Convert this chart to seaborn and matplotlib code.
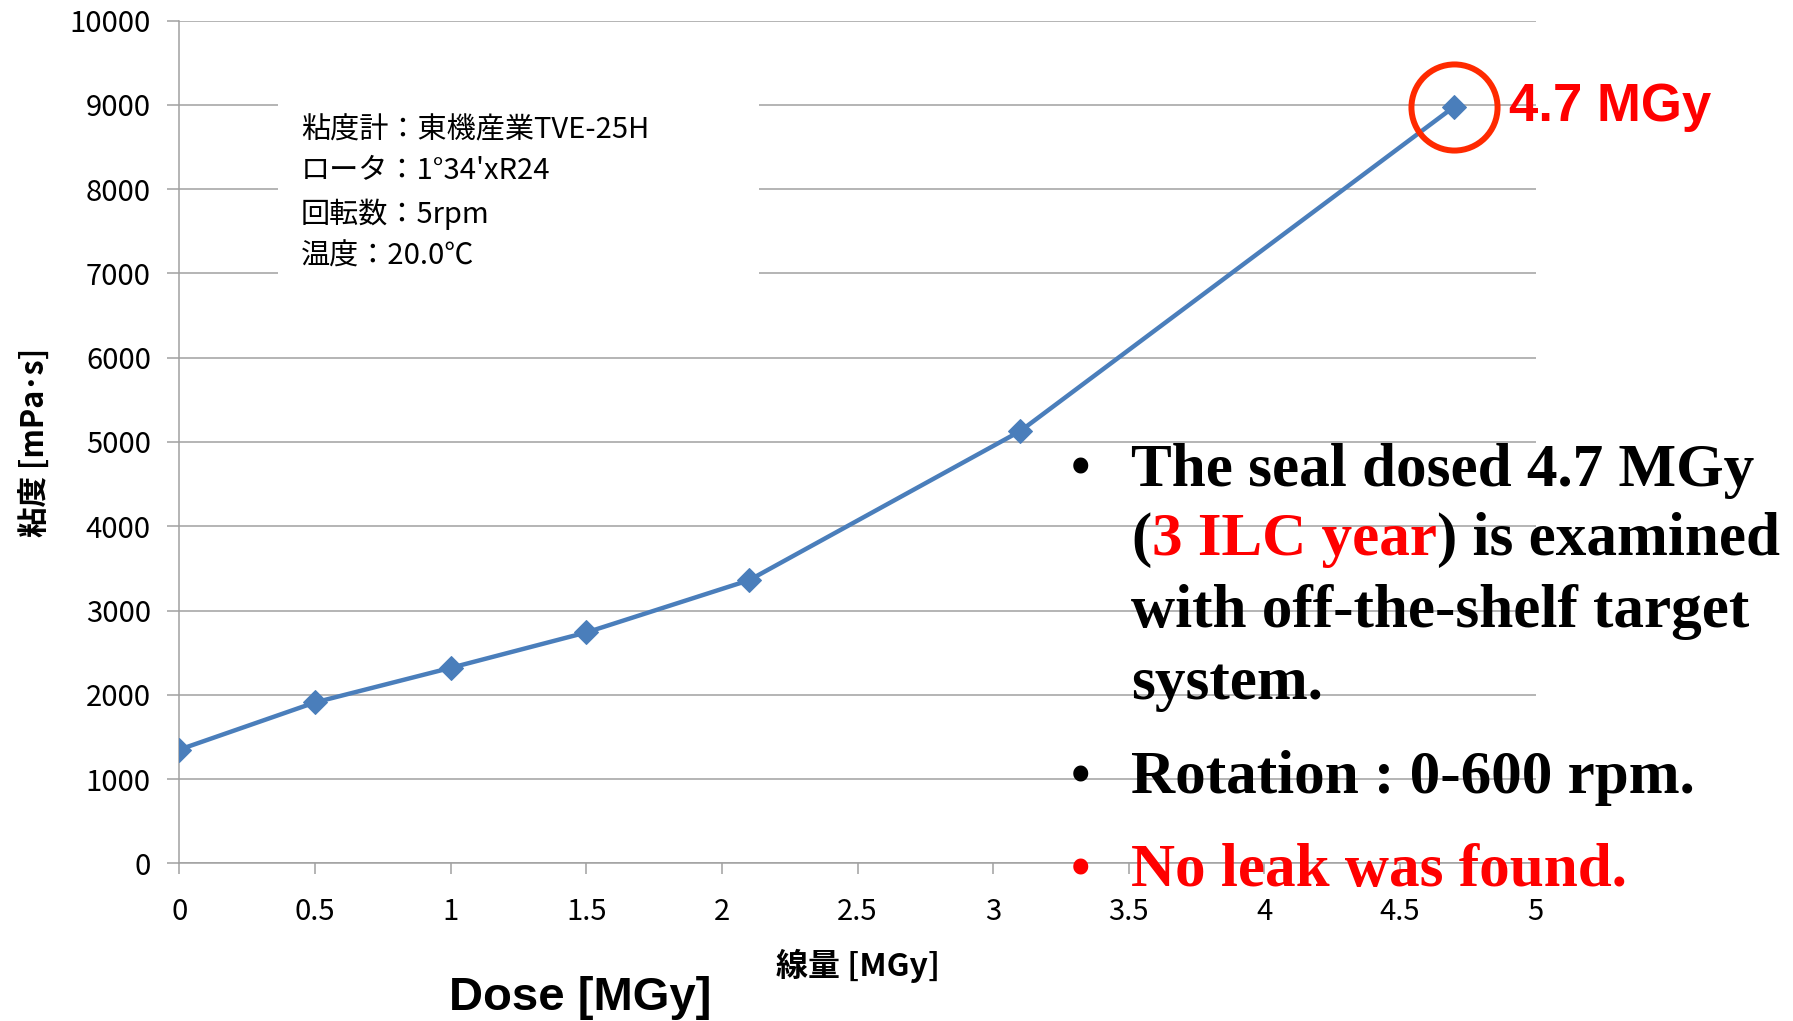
import numpy as np
import pandas as pd
import matplotlib
matplotlib.use("Agg")
import matplotlib.pyplot as plt
import seaborn as sns
from matplotlib.patches import Rectangle

# values
dose = [0.0, 0.5, 1.0, 1.5, 2.1, 3.1, 4.7]          # MGy
viscosity = [1350, 1910, 2320, 2740, 3360, 5130, 8980]  # mPa.s
x_ticks = [0, 0.5, 1, 1.5, 2, 2.5, 3, 3.5, 4, 4.5, 5]
y_ticks = list(range(0, 10001, 1000))
info_lines = ["粘度計：東機産業TVE-25H", "ロータ：1°34'xR24", "回転数：5rpm", "温度：20.0℃"]

sns.set_style("white")
plt.rcParams['font.family'] = ['Noto Sans CJK JP', 'DejaVu Sans']
plt.rcParams['text.color'] = 'black'
plt.rcParams['axes.labelcolor'] = 'black'
plt.rcParams['xtick.labelcolor'] = 'black'
plt.rcParams['ytick.labelcolor'] = 'black'

line_color = '#4a7ebb'
grid_color = '#a0a0a0'

fig = plt.figure(figsize=(17.93, 10.21), dpi=100)
ax = fig.add_axes([0.1001, 0.1544, 0.7564, 0.8254])

df = pd.DataFrame({'dose': dose, 'viscosity': viscosity})
sns.lineplot(data=df, x='dose', y='viscosity', ax=ax, color=line_color,
             linewidth=3.2, marker='D', markersize=12, markeredgecolor=line_color,
             zorder=3)

ax.set_xlim(0, 5)
ax.set_ylim(0, 10000)
ax.set_xticks(x_ticks)
ax.set_xticklabels([f'{t:g}' for t in x_ticks])
ax.set_yticks(y_ticks)
ax.grid(axis='y', color=grid_color, linewidth=1.1)
ax.set_axisbelow(True)
for s in ['top', 'right']:
    ax.spines[s].set_visible(False)
for s in ['left', 'bottom']:
    ax.spines[s].set_color(grid_color)
    ax.spines[s].set_linewidth(1.1)
ax.tick_params(axis='y', direction='out', length=8.6, width=1.1, color=grid_color,
               pad=12, labelsize=21, left=True)
ax.tick_params(axis='x', direction='out', length=8, width=1.1, color=grid_color,
               pad=16, labelsize=21, bottom=True)

ax.set_xlabel('線量 [MGy]', fontsize=23, fontweight='bold', labelpad=16)
ax.set_ylabel('粘度 [mPa･s]', fontsize=22, fontweight='bold', labelpad=13)

# white box with measurement conditions (hides the grid behind it)
ax.add_patch(Rectangle((0.0726, 0.685), 0.355, 0.231, transform=ax.transAxes,
                       facecolor='white', edgecolor='none', zorder=1))
ax.text(0.0896, 0.888, "\n".join(info_lines), transform=ax.transAxes,
        ha='left', va='top', fontsize=21, linespacing=1.5, zorder=2)

# red circle around the last point
ax.plot(dose[-1], viscosity[-1], marker='o', markersize=62, markerfacecolor='none',
        markeredgecolor='#ff2a00', markeredgewidth=4.3, clip_on=False, zorder=4)
fig.text(0.8416, 0.895, '4.7 MGy', color='#ff0000', fontsize=38, fontweight='bold',
         family=['Liberation Sans'], ha='left', va='center')

fig.text(0.3235, 0.023, 'Dose [MGy]', fontsize=34, fontweight='bold',
         family=['Liberation Sans'], ha='center', va='center')

# bullet text on the right
serif = ['Liberation Serif']
fs = 44
bfs = 40
bx, tx = 0.597, 0.631
fig.text(bx, 0.5387, '•', fontsize=bfs, fontweight='bold', family=serif, va='center')
fig.text(tx, 0.5387, 'The seal dosed 4.7 MGy', fontsize=fs, fontweight='bold',
         family=serif, va='center')
fig.canvas.draw()
r = fig.canvas.get_renderer()
parts = [('(', 'black'), ('3 ILC year', '#ff0000'), (') is examined', 'black')]
x = tx
for txt, col in parts:
    t = fig.text(x, 0.4711, txt, fontsize=fs, fontweight='bold', family=serif,
                 va='center', color=col)
    bb = t.get_window_extent(renderer=r)
    x = fig.transFigure.inverted().transform((bb.x1, bb.y0))[0]
fig.text(tx, 0.4006, 'with off-the-shelf target', fontsize=fs, fontweight='bold',
         family=serif, va='center')
fig.text(tx, 0.3301, 'system.', fontsize=fs, fontweight='bold', family=serif, va='center')
fig.text(bx, 0.2380, '•', fontsize=bfs, fontweight='bold', family=serif, va='center')
fig.text(tx, 0.2380, 'Rotation : 0-600 rpm.', fontsize=fs, fontweight='bold',
         family=serif, va='center')
fig.text(bx, 0.1469, '•', fontsize=bfs, fontweight='bold', family=serif, va='center',
         color='#ff0000')
fig.text(tx, 0.1469, 'No leak was found.', fontsize=fs, fontweight='bold',
         family=serif, va='center', color='#ff0000')

fig.savefig('out.png', dpi=100)
